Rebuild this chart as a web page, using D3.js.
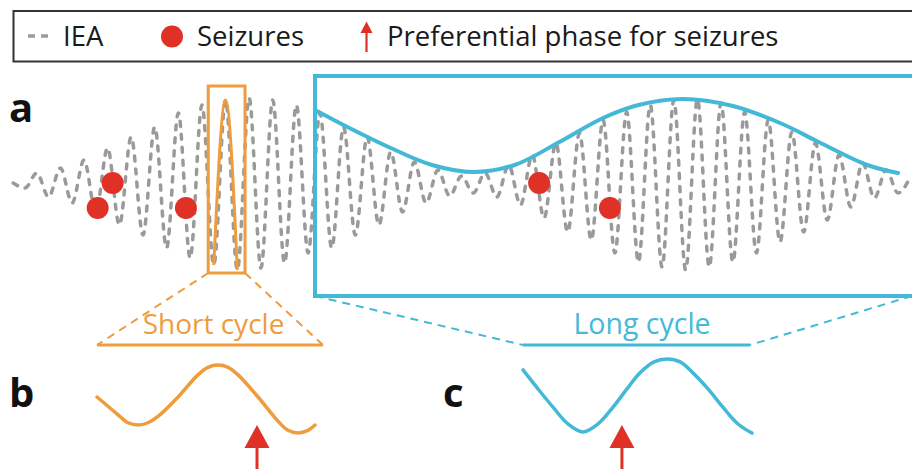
<!DOCTYPE html>
<html>
<head>
<meta charset="utf-8">
<script src="https://cdn.jsdelivr.net/npm/d3@7"></script>
<style>
  body { margin: 0; background: #fff; }
  text { font-family: "Open Sans", sans-serif; }
</style>
</head>
<body>
<script>
// IEA trace: time in half cycles, amplitude
var ieaT = d3.range(-1, 76);
var ieaV = [2, -3, 12, -12, 17, -18, 25, -27, 37, -40, 48, -50, 58, -63, 72, -73, 80, -80, 85, -85,
            87, -83, 85, -78, 80, -68, 72, -63, 58, -50, 48, -40, 33, -27, 23, -18, 15, -11, 9, -8,
            12, -12, 20, -20, 30, -33, 42, -47, 52, -55, 65, -68, 73, -77, 80, -82, 85, -85, 86, -82,
            82, -77, 73, -68, 65, -57, 53, -47, 42, -35, 30, -22, 22, -13, 15, -8, 7];

// long cycle envelope
var envT = [24.75, 27, 31, 34.5, 38, 41.5, 45.3, 49, 52, 55.8, 60, 64.2, 67.1, 71.4, 74];
var envV = [74, 60, 37, 20, 13, 20, 43, 67, 80, 86, 79, 61, 44, 20, 12];

// seizures
var seizureT = [6.16, 7.43, 13.64, 43.58, 49.58];
var seizureV = [-23, 2, -23, 2, -23];

// highlighted windows (time in half cycles, amplitude)
var shortWin = [15.53, 18.65], shortAmp = [-88, 99];
var longWin = [24.58, 77], longAmp = [-111, 109];
var shortTrace = [16, 18];

// panel b / c: phase (% of drawn width), normalised amplitude
var bT = [0, 9.17, 14.2, 18.8, 23.4, 28.0, 37.2, 46.3, 50.9, 55.5, 60.1, 64.7, 73.9, 83.0, 87.6, 92.2, 96.8, 100];
var bV = [0.03, -0.48, -0.75, -0.82, -0.75, -0.56, 0.03, 0.70, 0.93, 1.0, 0.93, 0.70, 0.03, -0.70, -0.98, -1.06, -0.98, -0.82];
var cT = [0, 6.55, 13.1, 19.65, 26.2, 32.75, 39.3, 45.4, 51.1, 57.2, 62.9, 68.6, 74.2, 80.8, 87.3, 93.9, 100];
var cV = [0.70, 0.18, -0.32, -0.78, -1.0, -0.78, -0.32, 0.18, 0.62, 0.92, 1.0, 0.92, 0.62, 0.18, -0.32, -0.78, -1.03];
var prefB = 73.4, prefC = 43.2;

var legendLabels = ["IEA", "Seizures", "Preferential phase for seizures"];

var orange = "#ee9c3c", blue = "#44b9d7", red = "#e03126", grey = "#9a9a9a";
var W = 912, H = 469;

var svg = d3.select("body").append("svg")
    .attr("width", W)
    .attr("height", H);

// ---- legend
var lg = svg.append("g");
lg.append("rect")
    .attr("x", 13.5).attr("y", 11)
    .attr("width", 920).attr("height", 50.5)
    .attr("fill", "none").attr("stroke", "#333").attr("stroke-width", 2);
lg.append("line")
    .attr("x1", 28).attr("x2", 50).attr("y1", 36).attr("y2", 36)
    .attr("stroke", grey).attr("stroke-width", 3.5)
    .attr("stroke-dasharray", "7,6");
lg.append("circle").attr("cx", 172).attr("cy", 36.5).attr("r", 11).attr("fill", red);
lg.append("line")
    .attr("x1", 366.5).attr("x2", 366.5).attr("y1", 30).attr("y2", 52)
    .attr("stroke", red).attr("stroke-width", 2.2);
lg.append("path")
    .attr("d", "M366.5,21.5 L372.5,33 L360.5,33 Z")
    .attr("fill", red);
var lgX = [63, 197, 387];
lg.selectAll("text.lg").data(legendLabels).enter().append("text")
    .attr("class", "lg")
    .attr("x", function(d, i) { return lgX[i]; })
    .attr("y", 46)
    .attr("font-size", 27.5)
    .attr("fill", "#1a1a1a")
    .text(function(d) { return d; });

// ---- panel a
var xA = d3.scaleLinear().domain([0, 74]).range([25, 898]);
var yA = d3.scaleLinear().domain([-100, 100]).range([285, 85]);

var iea = ieaT.map(function(t, i) { return [t, ieaV[i]]; });
var lineA = d3.line()
    .x(function(d) { return xA(d[0]); })
    .y(function(d) { return yA(d[1]); })
    .curve(d3.curveMonotoneX);

svg.append("path")
    .attr("d", lineA(iea))
    .attr("fill", "none")
    .attr("stroke", grey)
    .attr("stroke-width", 3.5)
    .attr("stroke-linecap", "round")
    .attr("stroke-dasharray", "5,8");

// short cycle, solid orange
svg.append("path")
    .attr("d", lineA(iea.filter(function(d) { return d[0] >= shortTrace[0] && d[0] <= shortTrace[1]; })))
    .attr("fill", "none")
    .attr("stroke", orange)
    .attr("stroke-width", 3);

svg.append("rect")
    .attr("x", xA(shortWin[0])).attr("y", yA(shortAmp[1]))
    .attr("width", xA(shortWin[1]) - xA(shortWin[0]))
    .attr("height", yA(shortAmp[0]) - yA(shortAmp[1]))
    .attr("fill", "none").attr("stroke", orange).attr("stroke-width", 3);

svg.append("rect")
    .attr("x", xA(longWin[0])).attr("y", yA(longAmp[1]))
    .attr("width", xA(longWin[1]) - xA(longWin[0]))
    .attr("height", yA(longAmp[0]) - yA(longAmp[1]))
    .attr("fill", "none").attr("stroke", blue).attr("stroke-width", 4);

var env = envT.map(function(t, i) { return [t, envV[i]]; });
svg.append("path")
    .attr("d", lineA.curve(d3.curveCatmullRom)(env))
    .attr("fill", "none")
    .attr("stroke", blue)
    .attr("stroke-width", 4)
    .attr("stroke-linecap", "round");

svg.selectAll("circle.seizure")
    .data(seizureT.map(function(t, i) { return [t, seizureV[i]]; }))
    .enter().append("circle")
    .attr("class", "seizure")
    .attr("cx", function(d) { return xA(d[0]); })
    .attr("cy", function(d) { return yA(d[1]); })
    .attr("r", 11)
    .attr("fill", red);

// ---- zoom-out guides and cycle labels
var barY = 345, textY = 334;
var shortBar = [97, 323], longBar = [523, 750];

function dashed(x1, y1, x2, y2, col) {
  svg.append("line")
      .attr("x1", x1).attr("y1", y1).attr("x2", x2).attr("y2", y2)
      .attr("stroke", col).attr("stroke-width", 2)
      .attr("stroke-dasharray", "8,6");
}
dashed(xA(shortWin[0]), yA(shortAmp[0]), shortBar[0], barY, orange);
dashed(xA(shortWin[1]), yA(shortAmp[0]), shortBar[1], barY, orange);
dashed(xA(longWin[0]), yA(longAmp[0]), longBar[0], barY, blue);
dashed(W, yA(longAmp[0]), longBar[1], barY, blue);

svg.append("line").attr("x1", shortBar[0]).attr("x2", shortBar[1])
    .attr("y1", barY).attr("y2", barY).attr("stroke", orange).attr("stroke-width", 3);
svg.append("line").attr("x1", longBar[0]).attr("x2", longBar[1])
    .attr("y1", barY).attr("y2", barY).attr("stroke", blue).attr("stroke-width", 3);

svg.append("text").attr("x", 213.5).attr("y", textY)
    .attr("text-anchor", "middle").attr("font-size", 28).attr("fill", orange)
    .text("Short cycle");
svg.append("text").attr("x", 642).attr("y", textY)
    .attr("text-anchor", "middle").attr("font-size", 28.5).attr("fill", blue)
    .text("Long cycle");

// ---- panels b and c
var xB = d3.scaleLinear().domain([0, 100]).range([97, 315]);
var yB = d3.scaleLinear().domain([-1, 1]).range([431, 365]);
var xC = d3.scaleLinear().domain([0, 100]).range([523, 752]);
var yC = d3.scaleLinear().domain([-1, 1]).range([432, 359]);

function cycle(T, V, xs, ys, col) {
  var line = d3.line()
      .x(function(d) { return xs(d[0]); })
      .y(function(d) { return ys(d[1]); })
      .curve(d3.curveCatmullRom);
  svg.append("path")
      .attr("d", line(T.map(function(t, i) { return [t, V[i]]; })))
      .attr("fill", "none")
      .attr("stroke", col)
      .attr("stroke-width", 3.5)
      .attr("stroke-linecap", "round");
}
cycle(bT, bV, xB, yB, orange);
cycle(cT, cV, xC, yC, blue);

function arrow(x) {
  svg.append("line").attr("x1", x).attr("x2", x).attr("y1", 446).attr("y2", H)
      .attr("stroke", red).attr("stroke-width", 3);
  svg.append("path")
      .attr("d", "M" + x + ",425 L" + (x + 12.5) + ",448 L" + (x - 12.5) + ",448 Z")
      .attr("fill", red);
}
arrow(xB(prefB));
arrow(xC(prefC));

// ---- panel letters
var letters = [["a", 9, 122], ["b", 9, 407], ["c", 443, 407]];
svg.selectAll("text.letter").data(letters).enter().append("text")
    .attr("class", "letter")
    .attr("x", function(d) { return d[1]; })
    .attr("y", function(d) { return d[2]; })
    .attr("font-size", 40)
    .attr("font-weight", 700)
    .attr("fill", "#111")
    .text(function(d) { return d[0]; });
</script>
</body>
</html>
